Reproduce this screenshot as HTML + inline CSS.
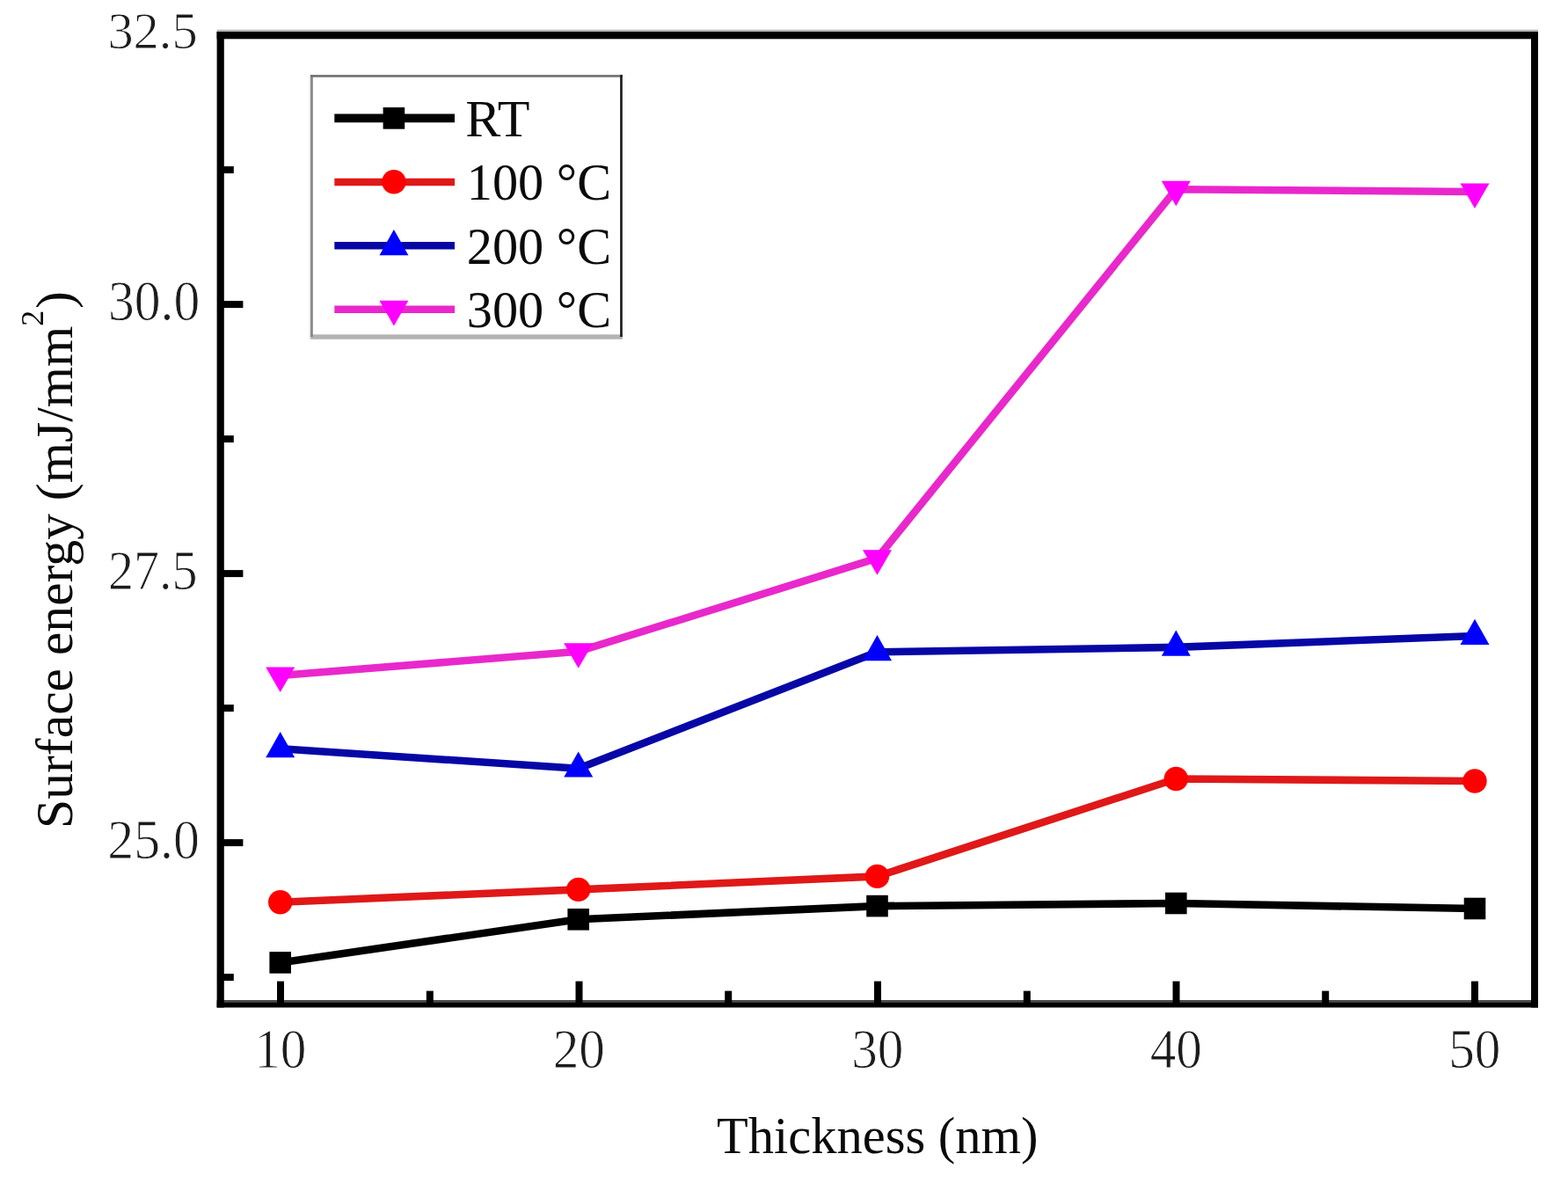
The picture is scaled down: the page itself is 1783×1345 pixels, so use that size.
<!DOCTYPE html>
<html lang="en">
<head>
<meta charset="utf-8">
<title>Surface energy vs thickness</title>
<style>
html,body{margin:0;padding:0;background:#ffffff;}
body{width:1783px;height:1345px;overflow:hidden;}
svg{display:block;}
text{font-family:"Liberation Serif","DejaVu Serif",serif;fill:#0a0a0a;}
.tk{fill:#1c1c1c;stroke:#ffffff;stroke-width:0.9px;stroke-linejoin:round;}
.tt,.lg{stroke:none;}
</style>
</head>
<body>
<svg width="1783" height="1345" viewBox="0 0 1783 1345" role="img" aria-label="Surface energy versus thickness">
<rect x="0" y="0" width="1783" height="1345" fill="#ffffff"/>
<!-- axis frame -->
<rect x="246.6" y="33.7" width="1502.4" height="2.4" fill="#b6b6b6"/>
<rect x="246.6" y="1137" width="1502.4" height="2.8" fill="#4a4a4a"/>
<rect x="246.6" y="36" width="1502.4" height="8.3" fill="#000"/>
<rect x="246.6" y="36" width="8.2" height="1109.5" fill="#000"/>
<rect x="1741" y="36" width="8" height="1109.5" fill="#000"/>
<rect x="246.6" y="1139.6" width="1502.4" height="5.9" fill="#000"/>
<!-- tick marks -->
<g stroke="#000" stroke-width="8" stroke-linecap="butt" fill="none">
<line x1="319.0" y1="1141.3" x2="319.0" y2="1115.6"/>
<line x1="658.5" y1="1141.3" x2="658.5" y2="1115.6"/>
<line x1="998.0" y1="1141.3" x2="998.0" y2="1115.6"/>
<line x1="1337.5" y1="1141.3" x2="1337.5" y2="1115.6"/>
<line x1="1677.0" y1="1141.3" x2="1677.0" y2="1115.6"/>
<line x1="488.8" y1="1141.3" x2="488.8" y2="1126.6"/>
<line x1="828.2" y1="1141.3" x2="828.2" y2="1126.6"/>
<line x1="1167.8" y1="1141.3" x2="1167.8" y2="1126.6"/>
<line x1="1507.2" y1="1141.3" x2="1507.2" y2="1126.6"/>
<line x1="250.7" y1="346.1" x2="276.4" y2="346.1"/>
<line x1="250.7" y1="652.1" x2="276.4" y2="652.1"/>
<line x1="250.7" y1="958.1" x2="276.4" y2="958.1"/>
<line x1="250.7" y1="193.1" x2="265.8" y2="193.1"/>
<line x1="250.7" y1="499.1" x2="265.8" y2="499.1"/>
<line x1="250.7" y1="805.1" x2="265.8" y2="805.1"/>
<line x1="250.7" y1="1111.1" x2="265.8" y2="1111.1"/>
</g>
<!-- tick labels -->
<text class="tk" transform="translate(318.8,1213.6) scale(0.925,1)" font-size="64" text-anchor="middle">10</text>
<text class="tk" transform="translate(658.3,1213.6) scale(0.925,1)" font-size="64" text-anchor="middle">20</text>
<text class="tk" transform="translate(997.8,1213.6) scale(0.925,1)" font-size="64" text-anchor="middle">30</text>
<text class="tk" transform="translate(1337.3,1213.6) scale(0.925,1)" font-size="64" text-anchor="middle">40</text>
<text class="tk" transform="translate(1676.8,1213.6) scale(0.925,1)" font-size="64" text-anchor="middle">50</text>
<text class="tk" transform="translate(224.6,55.4) scale(0.99,1)" font-size="59" text-anchor="end">32.5</text>
<text class="tk" transform="translate(227.3,363.9) scale(0.917,1)" font-size="65" text-anchor="end">30.0</text>
<text class="tk" transform="translate(224.6,669.9) scale(0.93,1)" font-size="62.5" text-anchor="end">27.5</text>
<text class="tk" transform="translate(227.0,975.9) scale(0.958,1)" font-size="62.5" text-anchor="end">25.0</text>
<!-- axis titles -->
<text class="tt" transform="translate(997.8,1311.0) scale(0.975,1)" font-size="60" text-anchor="middle">Thickness (nm)</text>
<text class="tt" transform="translate(82.0,636.5) rotate(-90) scale(0.993,1)" font-size="60" text-anchor="middle">Surface energy (mJ/mm<tspan font-size="36" dy="-33">2</tspan><tspan dy="33" dx="1.8">)</tspan></text>
<!-- data series -->
<polyline points="318.7,1094.4 657.7,1045.3 997.5,1030.1 1337.3,1027.0 1677.0,1033.0" fill="none" stroke="#000000" stroke-width="8.6" stroke-linejoin="round" stroke-linecap="butt"/>
<rect x="306.4" y="1082.1" width="24.6" height="24.6" fill="#000000"/>
<rect x="645.4" y="1033.0" width="24.6" height="24.6" fill="#000000"/>
<rect x="985.2" y="1017.8" width="24.6" height="24.6" fill="#000000"/>
<rect x="1325.0" y="1014.7" width="24.6" height="24.6" fill="#000000"/>
<rect x="1664.7" y="1020.7" width="24.6" height="24.6" fill="#000000"/>
<polyline points="318.7,1025.7 657.7,1011.4 997.5,996.4 1337.3,885.5 1677.0,888.0" fill="none" stroke="#e01818" stroke-width="8.6" stroke-linejoin="round" stroke-linecap="butt"/>
<circle cx="318.7" cy="1025.7" r="13.7" fill="#ff0000"/>
<circle cx="657.7" cy="1011.4" r="13.7" fill="#ff0000"/>
<circle cx="997.5" cy="996.4" r="13.7" fill="#ff0000"/>
<circle cx="1337.3" cy="885.5" r="13.7" fill="#ff0000"/>
<circle cx="1677.0" cy="888.0" r="13.7" fill="#ff0000"/>
<polyline points="318.7,851.3 657.7,873.7 997.5,741.3 1337.3,735.9 1677.0,723.0" fill="none" stroke="#0707a6" stroke-width="8.6" stroke-linejoin="round" stroke-linecap="butt"/>
<polygon points="302.2,861.2 335.2,861.2 318.7,832.0" fill="#0000ff"/>
<polygon points="641.2,883.6 674.2,883.6 657.7,854.4" fill="#0000ff"/>
<polygon points="981.0,751.2 1014.0,751.2 997.5,722.0" fill="#0000ff"/>
<polygon points="1320.8,745.8 1353.8,745.8 1337.3,716.6" fill="#0000ff"/>
<polygon points="1660.5,732.9 1693.5,732.9 1677.0,703.7" fill="#0000ff"/>
<polyline points="318.7,768.0 657.7,740.7 997.5,634.7 1337.3,215.2 1677.0,218.0" fill="none" stroke="#e928cc" stroke-width="8.6" stroke-linejoin="round" stroke-linecap="butt"/>
<polygon points="302.2,758.5 335.2,758.5 318.7,787.1" fill="#ff00ff"/>
<polygon points="641.2,731.2 674.2,731.2 657.7,759.8" fill="#ff00ff"/>
<polygon points="981.0,625.2 1014.0,625.2 997.5,653.8" fill="#ff00ff"/>
<polygon points="1320.8,205.7 1353.8,205.7 1337.3,234.3" fill="#ff00ff"/>
<polygon points="1660.5,208.5 1693.5,208.5 1677.0,237.1" fill="#ff00ff"/>
<!-- legend -->
<rect x="353.1" y="85.1" width="354.7" height="300.6" fill="#ffffff"/>
<rect x="353.1" y="380.3" width="354.7" height="5.4" fill="#b3b3b3"/>
<rect x="351.6" y="85.1" width="1.6" height="300" fill="#e6e6e6"/>
<rect x="353.1" y="85.1" width="2.7" height="298" fill="#858585"/>
<rect x="353.1" y="85.1" width="354.7" height="2.7" fill="#737373"/>
<rect x="705.1" y="85.1" width="2.7" height="297.9" fill="#1e1e1e"/>
<line x1="380.3" y1="134.4" x2="517" y2="134.4" stroke="#000000" stroke-width="9.8" stroke-linecap="butt"/>
<rect x="435.6" y="122.1" width="24.6" height="24.6" fill="#000000"/>
<text class="lg" transform="translate(529.3,154.8)" font-size="60" text-anchor="start">RT</text>
<line x1="380.3" y1="207.0" x2="517" y2="207.0" stroke="#e01818" stroke-width="8.6" stroke-linecap="butt"/>
<circle cx="447.9" cy="206.8" r="13.7" fill="#ff0000"/>
<text class="lg" transform="translate(530.8,227.4) scale(0.972,1)" font-size="60" text-anchor="start">100 °C</text>
<line x1="380.3" y1="279.3" x2="517" y2="279.3" stroke="#0707a6" stroke-width="8.6" stroke-linecap="butt"/>
<polygon points="431.4,290.2 464.4,290.2 447.9,261.0" fill="#0000ff"/>
<text class="lg" transform="translate(530.8,299.7) scale(0.972,1)" font-size="60" text-anchor="start">200 °C</text>
<line x1="380.3" y1="351.8" x2="517" y2="351.8" stroke="#e928cc" stroke-width="8.6" stroke-linecap="butt"/>
<polygon points="431.4,341.8 464.4,341.8 447.9,370.4" fill="#ff00ff"/>
<text class="lg" transform="translate(530.8,372.2) scale(0.972,1)" font-size="60" text-anchor="start">300 °C</text>
</svg>
</body>
</html>
